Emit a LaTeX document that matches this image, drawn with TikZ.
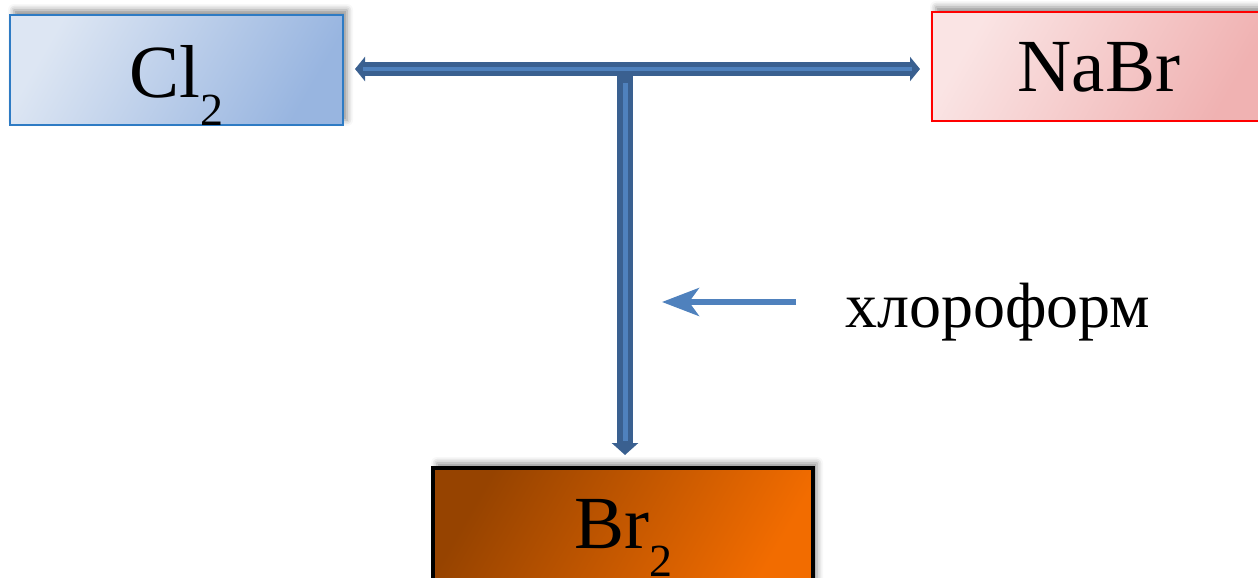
\documentclass[tikz,border=0pt]{standalone}
\usepackage{fontspec}
\setmainfont{Liberation Serif}
\usetikzlibrary{arrows.meta,shadows.blur,calc}
\definecolor{arrowdark}{HTML}{3A6090}
\definecolor{arrowlight}{HTML}{4F81BD}
\definecolor{clA}{HTML}{DDE6F3}
\definecolor{clB}{HTML}{98B5E0}
\definecolor{clborder}{HTML}{2E7BC4}
\definecolor{naA}{HTML}{FAE4E4}
\definecolor{naB}{HTML}{F0B2B2}
\definecolor{brA}{HTML}{964300}
\definecolor{brB}{HTML}{F26C00}
\tikzset{
  x=1pt,y=-1pt,
  chembox/.style={anchor=north west,inner sep=0pt,outer sep=0pt,align=center,
    font=\fontsize{75}{75}\selectfont,text=black,
    blur shadow={shadow xshift=4pt,shadow yshift=5pt,shadow blur radius=6pt,shadow opacity=45}},
  bigarrow/.style={draw=arrowdark,line width=14pt,
    -{Triangle[length=10pt,width=24pt]}},
  innerline/.style={draw=arrowlight,line width=4pt},
  thinarrow/.style={draw=arrowlight,line width=5.5pt,-{Stealth[length=37pt,width=28pt,inset=10pt]}},
}
\newcommand{\chemsub}[1]{\raisebox{-28pt}{\fontsize{46}{46}\selectfont #1}}
\begin{document}
\begin{tikzpicture}
\useasboundingbox (0,0) rectangle (1258,578);
\begin{scope}
\clip (0,0) rectangle (1258,578);
\node[chembox,draw=clborder,line width=1.8pt,left color=clA,right color=clB,shading angle=60,
  minimum width=333pt,text height=82pt,text depth=28pt] (cl) at (10,15) {Cl\chemsub{2}};
\node[chembox,draw=red,line width=1.8pt,left color=naA,right color=naB,shading angle=60,
  minimum width=334pt,text height=80pt,text depth=29pt] (nabr) at (932,12) {NaBr};
\node[chembox,draw=black,line width=3.5pt,left color=brA,right color=brB,shading angle=60,
  minimum width=380pt,text height=80pt,text depth=44pt] (br) at (433,468) {Br\chemsub{2}};
\end{scope}
\coordinate (J) at (625,69);
% vertical arrow
\draw[bigarrow,line width=16pt,-{Triangle[length=12pt,width=26pt]}] (J) -- ($(J |- br.north)+(0,-13)$) coordinate (vend);
% horizontal double arrow
\draw[bigarrow,{Triangle[length=10pt,width=24pt]}-{Triangle[length=10pt,width=24pt]}]
  ($(cl.east |- J)+(12,0)$) coordinate (hl) -- ($(nabr.west |- J)+(-12,0)$) coordinate (hr);
\draw[innerline] ($(hl)+(8,0)$) -- ($(hr)+(-8,0)$);
\draw[innerline,line width=5pt] ($(J)+(0,14)$) -- ($(vend)+(0,-14)$);
% chloroform
\node[anchor=base west,inner sep=0pt,font=\fontsize{64}{64}\selectfont] (chl) at (845,327) {хлороформ};
\coordinate (ctip) at (662,302);
\draw[thinarrow] ($(chl.west |- ctip)+(-49,0)$) -- (ctip);
\end{tikzpicture}
\end{document}
